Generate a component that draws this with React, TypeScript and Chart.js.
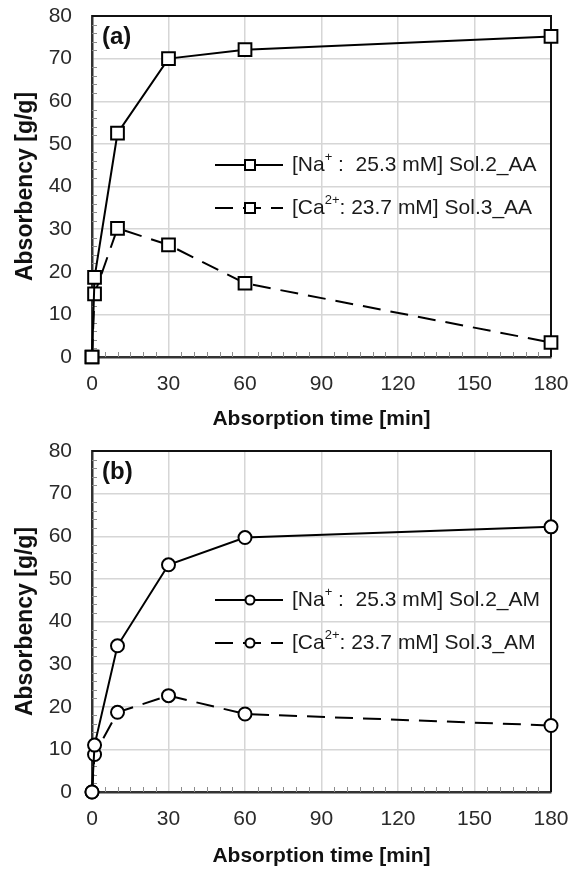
import React, { useEffect, useRef } from "react";
import { Chart, registerables } from "chart.js";
Chart.register(...registerables);

// ---- data ----
const timeMin = [0, 1, 10, 30, 60, 180];
const naAA = [0, 18.7, 52.5, 70.0, 72.1, 75.2];
const caAA = [0, 14.8, 30.2, 26.3, 17.3, 3.4];
const naAM = [0, 11.0, 34.3, 53.3, 59.7, 62.2];
const caAM = [0, 8.8, 18.7, 22.6, 18.3, 15.6];
const xTickStep = 30;
const yTickStep = 10;
const xMax = 180;
const yMax = 80;
const xMinorStep = 5;
const yMinorStep = 2;
const legendAA = [
  { pre: "[Na", sup: "+", post: " :  25.3 mM] Sol.2_AA", dashed: false },
  { pre: "[Ca", sup: "2+", post: ": 23.7 mM] Sol.3_AA", dashed: true },
];
const legendAM = [
  { pre: "[Na", sup: "+", post: " :  25.3 mM] Sol.2_AM", dashed: false },
  { pre: "[Ca", sup: "2+", post: ": 23.7 mM] Sol.3_AM", dashed: true },
];

const FONT = '"Liberation Sans", Arial, sans-serif';
const DASH = [18, 10];

const decor = {
  id: "decor",
  beforeDatasetsDraw(chart: any, _a: any, opts: any) {
    const { ctx, chartArea, scales } = chart;
    const { left, right, top, bottom } = chartArea;
    const x = scales.x, y = scales.y;
    ctx.save();
    ctx.strokeStyle = "#8c8c8c";
    ctx.lineWidth = 1;
    for (let v = 0; v <= xMax; v += xMinorStep) {
      if (v % xTickStep === 0) continue;
      const px = Math.round(x.getPixelForValue(v)) + 0.5;
      ctx.beginPath();
      ctx.moveTo(px, bottom);
      ctx.lineTo(px, bottom - 5);
      ctx.stroke();
    }
    for (let v = 0; v <= yMax; v += yMinorStep) {
      if (v % yTickStep === 0) continue;
      const py = Math.round(y.getPixelForValue(v)) + 0.5;
      ctx.beginPath();
      ctx.moveTo(left, py);
      ctx.lineTo(left + 5, py);
      ctx.stroke();
    }
    ctx.strokeStyle = "#111";
    ctx.lineWidth = 2;
    ctx.beginPath();
    ctx.moveTo(left, top);
    ctx.lineTo(right, top);
    ctx.lineTo(right, bottom);
    ctx.stroke();
    ctx.restore();
  },
  afterDatasetsDraw(chart: any, _a: any, opts: any) {
    const { ctx, chartArea } = chart;
    const { left, top } = chartArea;
    ctx.save();
    // panel label
    ctx.fillStyle = "#111";
    ctx.font = `bold 24px ${FONT}`;
    ctx.textBaseline = "middle";
    ctx.textAlign = "left";
    ctx.fillText(opts.label, left + 10, top + 21);
    // legend
    const rows = [top + 149, top + 192];
    const lx0 = left + 123, lx1 = left + 191, mx = left + 158, tx = left + 200;
    opts.legend.forEach((it: any, i: number) => {
      const yy = rows[i];
      ctx.strokeStyle = "#000";
      ctx.lineWidth = 2;
      ctx.setLineDash(it.dashed ? DASH : []);
      ctx.beginPath();
      ctx.moveTo(lx0, yy);
      ctx.lineTo(lx1, yy);
      ctx.stroke();
      ctx.setLineDash([]);
      ctx.fillStyle = "#fff";
      ctx.beginPath();
      if (opts.marker === "rect") {
        ctx.rect(mx - 5, yy - 5, 10, 10);
      } else {
        ctx.arc(mx, yy, 4.5, 0, Math.PI * 2);
      }
      ctx.fill();
      ctx.stroke();
      ctx.fillStyle = "#1a1a1a";
      ctx.font = `21px ${FONT}`;
      ctx.textBaseline = "middle";
      let cx = tx;
      ctx.fillText(it.pre, cx, yy);
      cx += ctx.measureText(it.pre).width;
      ctx.font = `13px ${FONT}`;
      ctx.fillText(it.sup, cx, yy - 8);
      cx += ctx.measureText(it.sup).width;
      ctx.font = `21px ${FONT}`;
      ctx.fillText(it.post, cx, yy);
    });
    ctx.restore();
  },
};

function makeConfig(na: number[], ca: number[], marker: string, radius: number, label: string, legend: any[], padTop: number, xHeight: number) {
  const ds = (vals: number[], dashed: boolean) => ({
    data: timeMin.map((t, i) => ({ x: t, y: vals[i] })),
    borderColor: "#000",
    borderWidth: 2,
    borderDash: dashed ? DASH : [],
    pointStyle: marker,
    pointRadius: radius,
    pointBorderWidth: 2,
    pointBorderColor: "#000",
    pointBackgroundColor: "#fff",
    backgroundColor: "#fff",
    tension: 0,
    clip: false as any,
    fill: false,
  });
  return {
    type: "line" as const,
    data: { datasets: [ds(na, false), ds(ca, true)] },
    options: {
      responsive: false,
      animation: false as const,
      layout: { padding: { top: padTop, right: 23, bottom: 0, left: 0 } },
      plugins: {
        legend: { display: false },
        tooltip: { enabled: false },
        decor: { label, legend, marker },
      },
      scales: {
        x: {
          type: "linear" as const,
          min: 0,
          max: xMax,
          ticks: { stepSize: xTickStep, padding: 15, color: "#2a2a2a", font: { family: FONT, size: 21 } },
          grid: { color: "#d6d6d6", lineWidth: 1.5, drawTicks: false },
          border: { color: "#333", width: 2.5 },
          title: { display: true, text: "Absorption time [min]", color: "#111", font: { family: FONT, size: 21, weight: "bold" as const }, padding: { top: 4, bottom: 4 } },
          afterFit: (s: any) => { s.height = xHeight; s.paddingLeft = 0; s.paddingRight = 0; },
        },
        y: {
          min: 0,
          max: yMax,
          ticks: { stepSize: yTickStep, padding: 20, color: "#2a2a2a", font: { family: FONT, size: 21 } },
          grid: { color: "#d6d6d6", lineWidth: 1.5, drawTicks: false },
          border: { color: "#333", width: 2.5 },
          title: { display: true, text: "Absorbency [g/g]", color: "#111", font: { family: FONT, size: 23, weight: "bold" as const }, padding: { top: 12, bottom: 0 } },
          afterFit: (s: any) => { s.width = 92; s.paddingTop = 0; s.paddingBottom = 0; },
        },
      },
    },
    plugins: [decor],
  };
}

function Panel({ cfg, height }: { cfg: any; height: number }) {
  const ref = useRef<HTMLCanvasElement>(null);
  useEffect(() => {
    const c = new Chart(ref.current!, cfg);
    return () => c.destroy();
  }, []);
  return <canvas ref={ref} width={574} height={height} style={{ display: "block", width: 574, height }} />;
}

export default function App() {
  const cfgA = makeConfig(naAA, caAA, "rect", 9, "(a)", legendAA, 16, 79);
  const cfgB = makeConfig(naAM, caAM, "circle", 6.5, "(b)", legendAM, 15, 81);
  return (
    <div style={{ position: "absolute", left: 0, top: 0, width: 574, height: 873, background: "#fff" }}>
      <Panel cfg={cfgA} height={436} />
      <Panel cfg={cfgB} height={437} />
    </div>
  );
}
